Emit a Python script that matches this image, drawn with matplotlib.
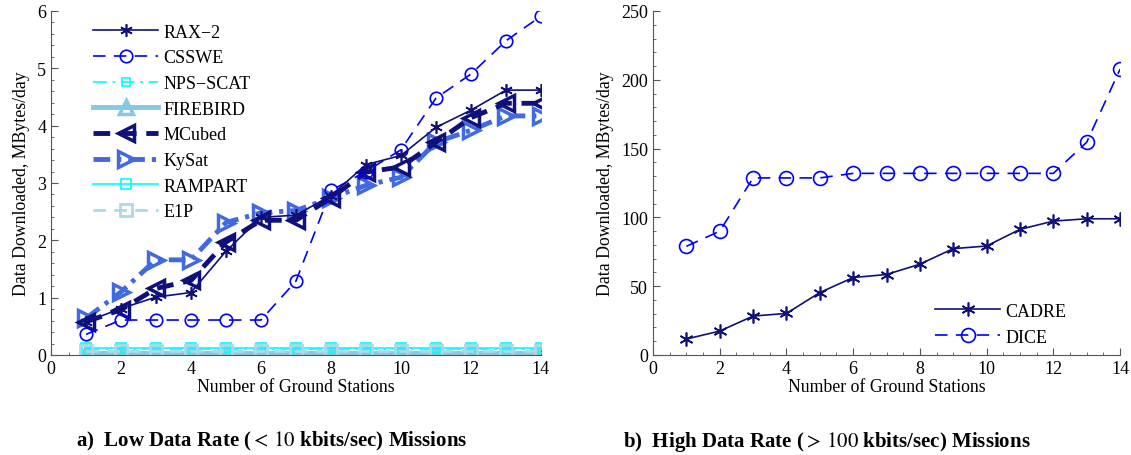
import numpy as np
import matplotlib
matplotlib.use("Agg")
import matplotlib.pyplot as plt
from matplotlib.ticker import AutoMinorLocator

plt.rcParams['font.family'] = ['Liberation Serif', 'DejaVu Serif']
plt.rcParams['mathtext.fontset'] = 'stix'
plt.rcParams['lines.scale_dashes'] = False

stations = np.arange(1, 15)

# low data rate missions, MBytes/day
rax2 = [0.58, 0.81, 1.01, 1.09, 1.81, 2.40, 2.44, 2.78, 3.32, 3.48, 3.97, 4.27, 4.62, 4.62]
csswe = [0.36, 0.61, 0.61, 0.61, 0.61, 0.61, 1.29, 2.87, 3.20, 3.58, 4.48, 4.90, 5.48, 5.91]
npsscat = [0.10] * 14
firebird = [0.03] * 14
mcubed = [0.58, 0.79, 1.16, 1.30, 1.97, 2.35, 2.35, 2.74, 3.19, 3.28, 3.71, 4.14, 4.39, 4.39]
kysat = [0.64, 1.10, 1.66, 1.66, 2.31, 2.48, 2.52, 2.74, 2.96, 3.10, 3.71, 3.92, 4.17, 4.17]
rampart = [0.12] * 14
e1p = [0.07] * 14

# high data rate missions
cadre = [11.6, 17.4, 28.3, 30.2, 45.4, 56.3, 58.5, 66, 77.3, 79.2, 91.3, 97.3, 99, 99]
dice = [79, 90, 128.7, 128.7, 128.7, 132, 132, 132, 132, 132, 132, 132, 154.6, 207.7]

navy = '#10107a'
blue = '#0000ff'
cyan = '#00ffff'
sky = '#87c8e6'
royal = '#4169e1'
lblue = '#add8e6'

fig = plt.figure(figsize=(11.31, 4.56), dpi=100)
ax1 = fig.add_axes([0.0451, 0.2193, 0.4332, 0.7544])
ax2 = fig.add_axes([0.5774, 0.2193, 0.4129, 0.7544])

ax1.plot(stations, npsscat, color=cyan, ls='-.', dashes=(10, 4, 2, 4), lw=1.2, marker='s', ms=6, mfc='none', mew=1.2, label='NPS\u2212SCAT', zorder=2)
ax1.plot(stations, firebird, color=sky, ls='-', lw=3.5, marker='^', ms=10, mfc='none', mew=2.5, label='FIREBIRD', zorder=2)
ax1.plot(stations, rampart, color=cyan, ls='-', lw=1.2, marker='s', ms=7, mfc='none', mew=1.2, label='RAMPART', zorder=2)
ax1.plot(stations, e1p, color=lblue, ls='--', dashes=(9, 6), lw=2, marker='s', ms=8, mfc='none', mew=2, label='E1P', zorder=2)
ax1.plot(stations, kysat, color=royal, ls='-.', dashes=(12, 5, 3, 5), lw=3.5, marker='>', ms=11, mfc='none', mew=2.5, label='KySat', zorder=3)
ax1.plot(stations, mcubed, color=navy, ls='--', dashes=(12, 7), lw=3.5, marker='<', ms=11, mfc='none', mew=2.5, label='MCubed', zorder=4)
ax1.plot(stations, csswe, color=blue, ls='--', dashes=(9, 6), lw=1.2, marker='o', ms=9, mfc='none', mew=1.2, label='CSSWE', zorder=5)
ax1.plot(stations, rax2, color=navy, ls='-', lw=1.2, marker=(6, 2, 0), ms=9, mew=1.2, label='RAX\u22122', zorder=6)

handles, labels = ax1.get_legend_handles_labels()
order = ['RAX\u22122', 'CSSWE', 'NPS\u2212SCAT', 'FIREBIRD', 'MCubed', 'KySat', 'RAMPART', 'E1P']
hd = dict(zip(labels, handles))
ax1.legend([hd[k] for k in order], order, loc='upper left', bbox_to_anchor=(0.06, 1.0),
           frameon=False, fontsize=13, handlelength=3.6, labelspacing=0.48, numpoints=1,
           handletextpad=0.3, borderaxespad=0.3)

ax2.plot(stations, cadre, color=navy, ls='-', lw=1.2, marker=(6, 2, 0), ms=10, mew=1.2, label='CADRE')
ax2.plot(stations, dice, color=blue, ls='--', dashes=(9, 6), lw=1.2, marker='o', ms=10, mfc='none', mew=1.2, label='DICE')
ax2.legend(loc='lower right', bbox_to_anchor=(0.92, -0.02), frameon=False, fontsize=13,
           handlelength=3.6, labelspacing=0.5, numpoints=1, handletextpad=0.3)

for ax, ymax, yticks in [(ax1, 6, np.arange(0, 7, 1)), (ax2, 250, np.arange(0, 251, 50))]:
    ax.set_xlim(0, 14)
    ax.set_ylim(0, ymax)
    ax.set_xticks(np.arange(0, 15, 2))
    ax.set_yticks(yticks)
    ax.xaxis.set_minor_locator(AutoMinorLocator(4))
    ax.yaxis.set_minor_locator(AutoMinorLocator(5))
    ax.spines['top'].set_visible(False)
    ax.spines['right'].set_visible(False)
    ax.spines['left'].set_color('#555555')
    ax.spines['bottom'].set_color('#555555')
    ax.tick_params(which='both', direction='in', labelsize=13, colors='#555555', labelcolor='black')
    ax.tick_params(which='major', length=5)
    ax.tick_params(which='minor', length=2.5)
    ax.set_xlabel('Number of Ground Stations', fontsize=12.8, labelpad=1)
    ax.set_ylabel('Data Downloaded, MBytes/day', fontsize=12.8, labelpad=5)

fig.text(0.24, 0.02, r'a)  Low Data Rate (${<}\,10$ kbits/sec) Missions', ha='center', fontsize=15, fontweight='bold')
fig.text(0.731, 0.02, r'b)  High Data Rate (${>}\,100$ kbits/sec) Missions', ha='center', fontsize=15, fontweight='bold')

fig.savefig('out.png', dpi=100)
